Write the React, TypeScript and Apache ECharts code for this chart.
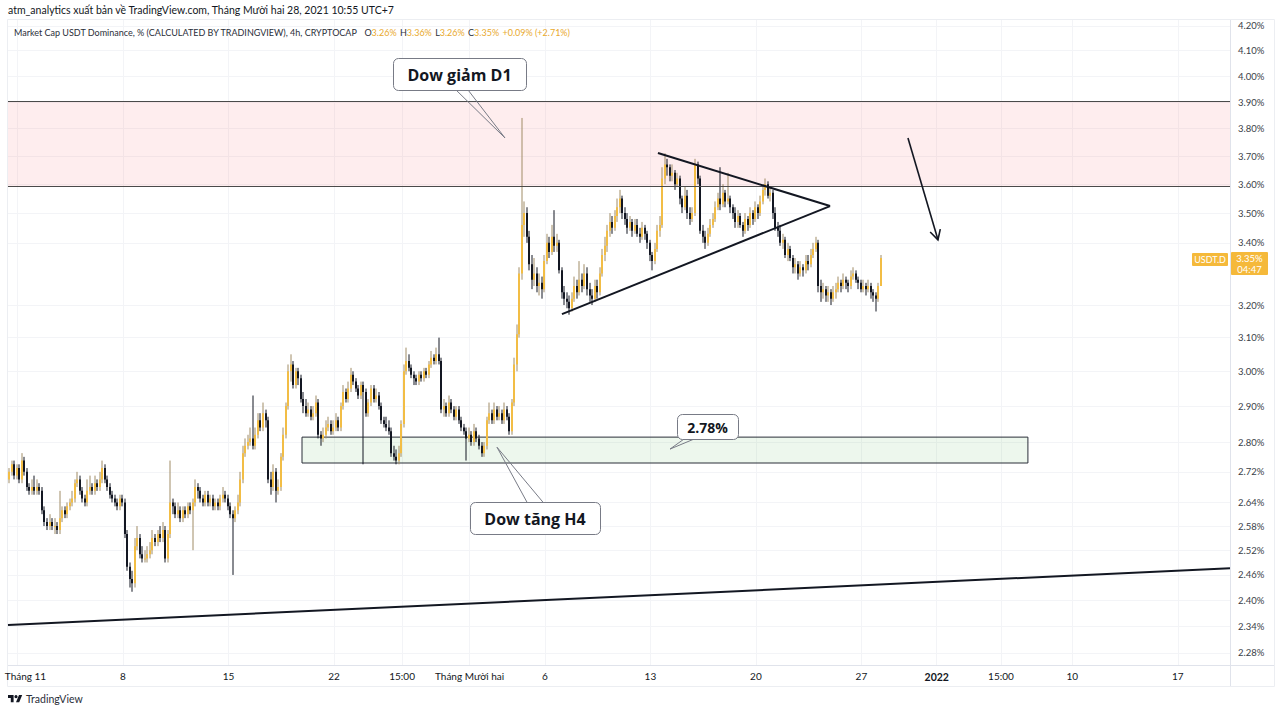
import { useEffect, useRef } from 'react';
import * as echarts from 'echarts';

// ---------- data (4h candles, USDT dominance %) ----------
const firstCandleDay = -13 / 24; // Oct 31 11:00 (days since Nov 1 00:00)
const candleStepDays = 4 / 24;
const firstOpen = 2.7;

const closes = [
  2.72, 2.74, 2.71, 2.73, 2.70, 2.75, 2.72, 2.68, 2.67, 2.68,
  2.67, 2.68, 2.67, 2.62, 2.59, 2.58, 2.59, 2.58, 2.58, 2.57,
  2.60, 2.62, 2.61, 2.63, 2.64, 2.65, 2.69, 2.70, 2.67, 2.65,
  2.64, 2.67, 2.68, 2.67, 2.69, 2.68, 2.70, 2.73, 2.70, 2.68,
  2.66, 2.65, 2.64, 2.63, 2.65, 2.64, 2.56, 2.48, 2.45, 2.44,
  2.53, 2.55, 2.51, 2.50, 2.50, 2.51, 2.52, 2.55, 2.54, 2.56,
  2.55, 2.57, 2.50, 2.56, 2.64, 2.63, 2.61, 2.62, 2.60, 2.62,
  2.61, 2.63, 2.62, 2.64, 2.68, 2.67, 2.65, 2.64, 2.66, 2.64,
  2.65, 2.63, 2.64, 2.63, 2.65, 2.66, 2.65, 2.63, 2.61, 2.60,
  2.62, 2.64, 2.70, 2.77, 2.79, 2.80, 2.81, 2.79, 2.82, 2.86,
  2.84, 2.88, 2.86, 2.70, 2.68, 2.72, 2.67, 2.68, 2.76, 2.82,
  2.90, 3.00, 3.02, 2.96, 3.00, 2.98, 2.92, 2.90, 2.88, 2.89,
  2.87, 2.88, 2.91, 2.82, 2.81, 2.82, 2.84, 2.85, 2.83, 2.84,
  2.86, 2.84, 2.90, 2.94, 2.92, 2.95, 2.99, 2.97, 2.95, 2.93,
  2.96, 2.94, 2.88, 2.91, 2.95, 2.92, 2.93, 2.90, 2.86, 2.85,
  2.84, 2.83, 2.77, 2.76, 2.75, 2.77, 2.85, 3.00, 3.03, 3.01,
  2.99, 2.98, 2.97, 2.99, 2.98, 3.00, 2.99, 3.02, 3.04, 3.03,
  3.05, 3.03, 2.89, 2.90, 2.88, 2.91, 2.89, 2.87, 2.89, 2.86,
  2.84, 2.83, 2.81, 2.82, 2.80, 2.83, 2.81, 2.79, 2.77, 2.79,
  2.86, 2.88, 2.86, 2.89, 2.87, 2.88, 2.86, 2.89, 2.87, 2.83,
  2.91, 3.02, 3.11, 3.30, 3.46, 3.50, 3.42, 3.33, 3.28, 3.30,
  3.26, 3.27, 3.25, 3.34, 3.40, 3.37, 3.42, 3.39, 3.40, 3.31,
  3.24, 3.22, 3.21, 3.19, 3.22, 3.26, 3.24, 3.28, 3.26, 3.30,
  3.25, 3.23, 3.22, 3.26, 3.24, 3.30, 3.36, 3.39, 3.44, 3.47,
  3.45, 3.49, 3.52, 3.55, 3.50, 3.48, 3.45, 3.47, 3.44, 3.46,
  3.43, 3.42, 3.45, 3.43, 3.40, 3.36, 3.34, 3.38, 3.44, 3.46,
  3.62, 3.67, 3.66, 3.63, 3.64, 3.60, 3.62, 3.55, 3.52, 3.56,
  3.50, 3.48, 3.50, 3.67, 3.62, 3.44, 3.42, 3.40, 3.43, 3.46,
  3.48, 3.52, 3.55, 3.53, 3.57, 3.54, 3.55, 3.52, 3.50, 3.47,
  3.49, 3.46, 3.44, 3.48, 3.46, 3.50, 3.48, 3.52, 3.50, 3.54,
  3.58, 3.60, 3.56, 3.57, 3.50, 3.45, 3.44, 3.40, 3.41, 3.36,
  3.38, 3.35, 3.32, 3.33, 3.30, 3.32, 3.31, 3.34, 3.33, 3.36,
  3.38, 3.40, 3.26, 3.24, 3.25, 3.23, 3.24, 3.22, 3.24, 3.25,
  3.27, 3.26, 3.28, 3.27, 3.26, 3.29, 3.30, 3.28, 3.27, 3.25,
  3.26, 3.25, 3.26, 3.24, 3.23, 3.22, 3.26, 3.35,
];

const highs = [
  2.73, 2.75, 2.75, 2.74, 2.74, 2.77, 2.76, 2.73, 2.69, 2.70,
  2.71, 2.70, 2.69, 2.68, 2.63, 2.60, 2.61, 2.60, 2.60, 2.59,
  2.67, 2.63, 2.63, 2.64, 2.65, 2.67, 2.70, 2.72, 2.71, 2.68,
  2.66, 2.70, 2.71, 2.69, 2.71, 2.70, 2.72, 2.75, 2.74, 2.71,
  2.69, 2.67, 2.66, 2.65, 2.66, 2.66, 2.65, 2.57, 2.49, 2.47,
  2.55, 2.58, 2.56, 2.53, 2.52, 2.53, 2.54, 2.57, 2.56, 2.57,
  2.58, 2.59, 2.58, 2.57, 2.75, 2.65, 2.64, 2.64, 2.63, 2.63,
  2.63, 2.64, 2.64, 2.65, 2.70, 2.69, 2.68, 2.66, 2.67, 2.67,
  2.66, 2.66, 2.65, 2.65, 2.66, 2.68, 2.67, 2.66, 2.64, 2.62,
  2.63, 2.66, 2.72, 2.79, 2.81, 2.82, 2.84, 2.93, 2.84, 2.88,
  2.88, 2.91, 2.89, 2.87, 2.72, 2.74, 2.73, 2.70, 2.77, 2.84,
  2.91, 3.02, 3.05, 3.03, 3.01, 3.01, 2.99, 2.94, 2.92, 2.91,
  2.90, 2.90, 2.93, 2.92, 2.83, 2.84, 2.86, 2.87, 2.86, 2.86,
  2.88, 2.87, 2.91, 2.96, 2.95, 2.97, 3.01, 3.00, 2.98, 2.96,
  2.97, 2.97, 2.95, 2.92, 2.96, 2.96, 2.95, 2.94, 2.91, 2.87,
  2.87, 2.86, 2.84, 2.79, 2.78, 2.79, 2.86, 3.02, 3.07, 3.05,
  3.02, 3.00, 2.99, 3.00, 3.00, 3.01, 3.01, 3.03, 3.06, 3.05,
  3.07, 3.10, 3.04, 2.92, 2.91, 2.93, 2.92, 2.90, 2.90, 2.90,
  2.87, 2.85, 2.84, 2.84, 2.83, 2.85, 2.84, 2.82, 2.80, 2.80,
  2.87, 2.91, 2.89, 2.91, 2.90, 2.90, 2.89, 2.91, 2.90, 2.88,
  2.92, 3.04, 3.14, 3.32, 3.84, 3.54, 3.52, 3.44, 3.36, 3.35,
  3.32, 3.30, 3.29, 3.36, 3.43, 3.42, 3.46, 3.51, 3.43, 3.41,
  3.32, 3.26, 3.24, 3.23, 3.24, 3.29, 3.28, 3.34, 3.30, 3.33,
  3.32, 3.27, 3.25, 3.28, 3.28, 3.32, 3.38, 3.42, 3.46, 3.50,
  3.49, 3.51, 3.55, 3.58, 3.56, 3.52, 3.50, 3.49, 3.48, 3.48,
  3.48, 3.45, 3.47, 3.46, 3.44, 3.41, 3.37, 3.40, 3.46, 3.49,
  3.66, 3.71, 3.69, 3.67, 3.67, 3.65, 3.64, 3.63, 3.56, 3.59,
  3.58, 3.52, 3.52, 3.69, 3.68, 3.63, 3.46, 3.44, 3.45, 3.48,
  3.50, 3.54, 3.57, 3.66, 3.60, 3.58, 3.64, 3.56, 3.53, 3.52,
  3.51, 3.50, 3.47, 3.50, 3.49, 3.52, 3.51, 3.54, 3.53, 3.56,
  3.60, 3.62, 3.61, 3.59, 3.58, 3.52, 3.47, 3.46, 3.43, 3.42,
  3.40, 3.39, 3.36, 3.35, 3.34, 3.34, 3.33, 3.36, 3.36, 3.38,
  3.40, 3.42, 3.41, 3.28, 3.27, 3.26, 3.26, 3.25, 3.26, 3.27,
  3.29, 3.28, 3.30, 3.29, 3.28, 3.31, 3.32, 3.31, 3.29, 3.28,
  3.28, 3.27, 3.28, 3.27, 3.25, 3.24, 3.27, 3.36,
];

const lows = [
  2.69, 2.71, 2.70, 2.70, 2.69, 2.69, 2.71, 2.67, 2.66, 2.66,
  2.66, 2.66, 2.66, 2.61, 2.58, 2.57, 2.57, 2.57, 2.56, 2.56,
  2.56, 2.59, 2.60, 2.60, 2.62, 2.63, 2.64, 2.68, 2.66, 2.64,
  2.63, 2.63, 2.66, 2.66, 2.66, 2.67, 2.67, 2.69, 2.69, 2.67,
  2.65, 2.64, 2.63, 2.62, 2.62, 2.63, 2.55, 2.47, 2.43, 2.42,
  2.43, 2.52, 2.50, 2.49, 2.49, 2.49, 2.50, 2.51, 2.53, 2.53,
  2.54, 2.54, 2.49, 2.49, 2.55, 2.61, 2.60, 2.60, 2.59, 2.59,
  2.60, 2.60, 2.61, 2.52, 2.63, 2.65, 2.64, 2.63, 2.63, 2.63,
  2.63, 2.62, 2.62, 2.62, 2.62, 2.64, 2.64, 2.62, 2.60, 2.46,
  2.59, 2.61, 2.63, 2.69, 2.76, 2.78, 2.79, 2.78, 2.78, 2.81,
  2.83, 2.83, 2.84, 2.69, 2.66, 2.67, 2.64, 2.66, 2.67, 2.75,
  2.81, 2.89, 2.97, 2.95, 2.95, 2.96, 2.91, 2.88, 2.87, 2.87,
  2.86, 2.86, 2.87, 2.81, 2.79, 2.80, 2.81, 2.83, 2.82, 2.82,
  2.83, 2.83, 2.83, 2.89, 2.91, 2.91, 2.94, 2.96, 2.94, 2.92,
  2.92, 2.74, 2.87, 2.87, 2.90, 2.91, 2.91, 2.89, 2.85, 2.84,
  2.83, 2.82, 2.76, 2.75, 2.74, 2.74, 2.76, 2.84, 2.99, 3.00,
  2.98, 2.96, 2.96, 2.96, 2.97, 2.97, 2.98, 2.98, 3.01, 3.02,
  3.02, 3.02, 2.88, 2.87, 2.87, 2.87, 2.88, 2.86, 2.86, 2.85,
  2.83, 2.82, 2.75, 2.80, 2.79, 2.79, 2.80, 2.78, 2.76, 2.76,
  2.78, 2.85, 2.85, 2.85, 2.86, 2.86, 2.85, 2.85, 2.86, 2.82,
  2.82, 2.90, 3.00, 3.10, 3.28, 3.42, 3.40, 3.31, 3.25, 3.26,
  3.24, 3.23, 3.22, 3.24, 3.33, 3.35, 3.36, 3.37, 3.37, 3.30,
  3.22, 3.20, 3.19, 3.17, 3.18, 3.21, 3.22, 3.23, 3.24, 3.25,
  3.23, 3.21, 3.20, 3.21, 3.22, 3.23, 3.29, 3.34, 3.37, 3.42,
  3.43, 3.44, 3.47, 3.50, 3.48, 3.46, 3.43, 3.44, 3.42, 3.43,
  3.42, 3.40, 3.41, 3.41, 3.38, 3.34, 3.31, 3.33, 3.37, 3.42,
  3.45, 3.60, 3.63, 3.61, 3.61, 3.58, 3.59, 3.53, 3.50, 3.51,
  3.48, 3.46, 3.47, 3.49, 3.60, 3.43, 3.40, 3.38, 3.39, 3.42,
  3.45, 3.47, 3.51, 3.51, 3.52, 3.52, 3.53, 3.50, 3.48, 3.45,
  3.45, 3.45, 3.42, 3.43, 3.44, 3.45, 3.46, 3.47, 3.48, 3.49,
  3.53, 3.56, 3.55, 3.54, 3.48, 3.44, 3.42, 3.39, 3.38, 3.35,
  3.34, 3.34, 3.30, 3.30, 3.28, 3.29, 3.29, 3.30, 3.31, 3.32,
  3.35, 3.37, 3.24, 3.21, 3.22, 3.21, 3.21, 3.20, 3.21, 3.22,
  3.24, 3.24, 3.25, 3.25, 3.24, 3.25, 3.28, 3.27, 3.25, 3.24,
  3.24, 3.23, 3.24, 3.22, 3.21, 3.18, 3.21, 3.26,
];

// ---------- axes ----------
const priceTicks = [4.2, 4.1, 4.0, 3.9, 3.8, 3.7, 3.6, 3.5, 3.4, 3.2, 3.1, 3.0, 2.9, 2.8, 2.72, 2.64, 2.58, 2.52, 2.46, 2.4, 2.34, 2.28];
const priceRange = [2.2533, 4.2246];
const dayRange = [-0.63, 80.46];
const dayTicks = [0, 7, 14, 21, 25.52, 30, 35, 42, 49, 56, 61, 65.26, 70, 77];
const dayTickLabels = ['Tháng 11', '8', '15', '22', '15:00', 'Tháng Mười hai', '6', '13', '20', '27', '2022', '15:00', '10', '17'];

// ---------- drawings (day, price) ----------
const resistanceZone = [3.5935, 3.904];
const supportZoneDays = [18.88, 67.05];
const supportZonePrices = [2.7435, 2.8136];
const triangleUpper = [[42.5, 3.711], [53.92, 3.524]];
const triangleLower = [[36.13, 3.172], [53.92, 3.524]];
const longTrend = [[-0.63, 2.343], [80.46, 2.476]];
const arrowLine = [[59.09, 3.766], [61.08, 3.41]];
const calloutTexts = ['Dow giảm D1', 'Dow tăng H4', '2.78%'];
const calloutTips = [[32.35, 3.766], [31.82, 2.786], [43.3, 2.781]];

const titleText = 'atm_analytics xuất bản về TradingView.com, Tháng Mười hai 28, 2021 10:55 UTC+7';
const seriesName = 'Market Cap USDT Dominance, % (CALCULATED BY TRADINGVIEW), 4h, CRYPTOCAP';
const legendOHLC = [3.26, 3.36, 3.26, 3.35];
const legendChange = ['+0.09%', '(+2.71%)'];
const symbolTag = 'USDT.D';
const countdown = '04:47';

const FONT = 'Lato, "Open Sans", sans-serif';
const INK = '#131722';
const UP = '#f2bd45';
const UP_WICK = '#a08c66';
const DOWN = '#131722';
const TAG = '#f5b93a';

echarts.graphic.registerShape(
  'tvlogo',
  echarts.graphic.extendPath(
    'M14 22H7V11H0V4h14v18z M28 22h-8l7.5-18h8L28 22z M20 4a4 4 0 1 0 0.01 0z',
    {}
  ) as any
);

export default function App() {
  const ref = useRef<HTMLDivElement>(null);

  useEffect(() => {
    const el = ref.current!;
    const chart = echarts.init(el, null, { renderer: 'svg' });
    const L = Math.log;

    const candles = closes.map((c, i) => {
      const o = i === 0 ? firstOpen : closes[i - 1];
      return [firstCandleDay + i * candleStepDays, L(o), L(c), L(lows[i]), L(highs[i])];
    });

    const dayLabel = (v: number) => {
      const k = dayTicks.findIndex((d) => Math.abs(d - v) < 1e-6);
      const s = k >= 0 ? dayTickLabels[k] : '';
      if (k === 0) return '{first|' + s + '}';
      return s === '2022' ? '{b|2022}' : s;
    };

    const seg = (pts: number[][]) => [
      { coord: [pts[0][0], L(pts[0][1])] },
      { coord: [pts[1][0], L(pts[1][1])] },
    ];

    const renderCandle = (_params: any, api: any) => {
      const x = api.value(0);
      const o = api.value(1);
      const c = api.value(2);
      const pO = api.coord([x, o]);
      const pC = api.coord([x, c]);
      const pL = api.coord([x, api.value(3)]);
      const pH = api.coord([x, api.value(4)]);
      const up = c >= o;
      const bx = Math.round(pO[0]) - 1;
      const top = Math.min(pO[1], pC[1]);
      const h = Math.max(Math.abs(pO[1] - pC[1]), 1);
      return {
        type: 'group',
        children: [
          {
            type: 'line',
            shape: { x1: bx + 1, y1: pH[1], x2: bx + 1, y2: pL[1] },
            style: { stroke: up ? UP_WICK : DOWN, lineWidth: 1 },
          },
          {
            type: 'rect',
            shape: { x: bx, y: top, width: 2, height: h },
            style: { fill: up ? UP : DOWN },
          },
        ],
      };
    };

    chart.setOption({
      animation: false,
      backgroundColor: '#ffffff',
      grid: { left: 8, right: 50, top: 20, bottom: 48, outerBoundsMode: 'none', containLabel: false },
      xAxis: {
        type: 'value',
        min: dayRange[0],
        max: dayRange[1],
        axisLine: { show: false },
        axisTick: { show: false, customValues: dayTicks },
        splitLine: { show: true, lineStyle: { color: '#f3f4f7', width: 1 } },
        axisLabel: {
          customValues: dayTicks,
          formatter: dayLabel,
          color: INK,
          fontSize: 10,
          fontFamily: FONT,
          margin: 6,
          rich: {
            b: { fontWeight: 'bold', fontSize: 10.5, color: INK, fontFamily: FONT },
            first: { fontSize: 10, color: INK, fontFamily: FONT, padding: [0, 0, 0, 16] },
          },
        },
      },
      yAxis: {
        type: 'value',
        position: 'right',
        min: L(priceRange[0]),
        max: L(priceRange[1]),
        axisLine: { show: false },
        axisTick: { show: false, customValues: priceTicks.map(L) },
        splitLine: { show: true, lineStyle: { color: '#f3f4f7', width: 1 } },
        axisLabel: {
          customValues: priceTicks.map(L),
          formatter: (v: number) => Math.exp(v).toFixed(2) + '%',
          color: '#3a3e48',
          fontSize: 9.5,
          fontFamily: FONT,
          margin: 8,
        },
      },
      series: [
        {
          type: 'line',
          data: [],
          z: 1,
          silent: true,
          markArea: {
            silent: true,
            label: { show: false },
            data: [
              [
                {
                  coord: [dayRange[0], L(resistanceZone[0])],
                  itemStyle: { color: 'rgba(242, 54, 69, 0.09)', borderWidth: 0 },
                },
                { coord: [dayRange[1], L(resistanceZone[1])] },
              ],
              [
                {
                  coord: [supportZoneDays[0], L(supportZonePrices[0])],
                  itemStyle: { color: 'rgba(76, 175, 80, 0.1)', borderColor: '#2a2e39', borderWidth: 1 },
                },
                { coord: [supportZoneDays[1], L(supportZonePrices[1])] },
              ],
            ],
          },
          markLine: {
            silent: true,
            symbol: ['none', 'none'],
            label: { show: false },
            lineStyle: { color: '#4a4a4a', width: 1, type: 'solid' },
            data: [
              seg([[dayRange[0], resistanceZone[0]], [dayRange[1], resistanceZone[0]]]),
              seg([[dayRange[0], resistanceZone[1]], [dayRange[1], resistanceZone[1]]]),
            ],
          },
        },
        {
          type: 'custom',
          z: 2,
          silent: true,
          data: candles,
          dimensions: ['t', 'open', 'close', 'lowest', 'highest'],
          encode: { x: 0, y: [1, 2, 3, 4] },
          renderItem: renderCandle,
        },
        {
          type: 'line',
          data: [],
          z: 3,
          silent: true,
          markLine: {
            silent: true,
            symbol: ['none', 'none'],
            label: { show: false },
            lineStyle: { color: INK, width: 2, type: 'solid' },
            data: [seg(triangleUpper), seg(triangleLower), seg(longTrend)],
          },
        },
      ],
    });

    const toPx = (d: number, p: number) =>
      chart.convertToPixel({ gridIndex: 0 } as any, [d, L(p)]) as number[];

    const g: any[] = [];
    // frame and separators
    g.push({ type: 'rect', silent: true, shape: { x: 7.5, y: 19.5, width: 1267, height: 667 }, style: { fill: 'none', stroke: '#eceef2', lineWidth: 1 } });
    g.push({ type: 'line', silent: true, shape: { x1: 1230.5, y1: 20, x2: 1230.5, y2: 686 }, style: { stroke: '#e0e3eb', lineWidth: 1 } });
    g.push({ type: 'line', silent: true, shape: { x1: 8, y1: 665.5, x2: 1274, y2: 665.5 }, style: { stroke: '#e0e3eb', lineWidth: 1 } });

    // title & legend
    g.push({ type: 'text', x: 8, y: 10, style: { text: titleText, fontSize: 10.5, fontFamily: FONT, fill: INK, verticalAlign: 'middle' } });
    g.push({
      type: 'text',
      x: 14,
      y: 32,
      style: {
        text:
          `{n|${seriesName}}  {n|O}{v|${legendOHLC[0].toFixed(2)}%} {n|H}{v|${legendOHLC[1].toFixed(2)}%} ` +
          `{n|L}{v|${legendOHLC[2].toFixed(2)}%} {n|C}{v|${legendOHLC[3].toFixed(2)}%} {v|${legendChange[0]} ${legendChange[1]}}`,
        verticalAlign: 'middle',
        rich: {
          n: { fontSize: 9, fontFamily: FONT, fill: '#2a2e39' },
          v: { fontSize: 9, fontFamily: FONT, fill: '#e9a92e' },
        },
      },
    });

    // callouts: [box dx, dy, w, h], pointer base offsets, font size
    const boxes = [
      { box: [-112, -80, 133, 32], base: [[-49, -48], [-37, -48]], fs: 16 },
      { box: [-27, 55, 130, 32], base: [[30, 55], [46, 55]], fs: 16 },
      { box: [7, -35, 61, 25], base: [[14, -10], [24, -10]], fs: 14 },
    ];
    boxes.forEach((b, k) => {
      const [tx, ty] = toPx(calloutTips[k][0], calloutTips[k][1]);
      const bx = Math.round(tx + b.box[0]);
      const by = Math.round(ty + b.box[1]);
      g.push({
        type: 'polyline',
        z: 100,
        silent: true,
        shape: { points: [[tx + b.base[0][0], ty + b.base[0][1]], [tx, ty], [tx + b.base[1][0], ty + b.base[1][1]]] },
        style: { stroke: '#787b86', lineWidth: 1, fill: 'none' },
      });
      g.push({
        type: 'rect',
        z: 101,
        silent: true,
        shape: { x: bx + 0.5, y: by + 0.5, width: b.box[2], height: b.box[3], r: 5 },
        style: { fill: '#ffffff', stroke: '#787b86', lineWidth: 1 },
      });
      g.push({
        type: 'text',
        z: 102,
        silent: true,
        x: bx + b.box[2] / 2,
        y: by + b.box[3] / 2 + 1,
        style: { text: calloutTexts[k], fontSize: b.fs, fontWeight: 'bold', fontFamily: '"Open Sans", Lato, sans-serif', fill: INK, align: 'center', verticalAlign: 'middle' },
      });
    });

    // arrow
    const a1 = toPx(arrowLine[0][0], arrowLine[0][1]);
    const a2 = toPx(arrowLine[1][0], arrowLine[1][1]);
    const dx = a2[0] - a1[0];
    const dy = a2[1] - a1[1];
    const len = Math.hypot(dx, dy);
    const ux = dx / len;
    const uy = dy / len;
    const head = 11;
    const ang = 0.5;
    const rot = (s: number) => [
      a2[0] - head * (ux * Math.cos(s) - uy * Math.sin(s)),
      a2[1] - head * (ux * Math.sin(s) + uy * Math.cos(s)),
    ];
    g.push({ type: 'line', z: 50, silent: true, shape: { x1: a1[0], y1: a1[1], x2: a2[0], y2: a2[1] }, style: { stroke: INK, lineWidth: 1.6 } });
    g.push({ type: 'polyline', z: 50, silent: true, shape: { points: [rot(ang), a2, rot(-ang)] }, style: { stroke: INK, lineWidth: 1.6, fill: 'none' } });

    // last price tags
    const lastDay = firstCandleDay + (closes.length - 1) * candleStepDays;
    const py = Math.round(toPx(lastDay, closes[closes.length - 1])[1]);
    g.push({ type: 'rect', z: 60, silent: true, shape: { x: 1192, y: py - 5, width: 36, height: 13, r: 1 }, style: { fill: TAG } });
    g.push({ type: 'text', z: 61, silent: true, x: 1210, y: py + 1.5, style: { text: symbolTag, fontSize: 9, fontFamily: FONT, fill: '#ffffff', align: 'center', verticalAlign: 'middle' } });
    g.push({ type: 'rect', z: 60, silent: true, shape: { x: 1231, y: py - 6, width: 37, height: 23, r: 1 }, style: { fill: TAG } });
    g.push({ type: 'text', z: 61, silent: true, x: 1249.5, y: py + 0.5, style: { text: closes[closes.length - 1].toFixed(2) + '%', fontSize: 9.5, fontFamily: FONT, fill: '#ffffff', align: 'center', verticalAlign: 'middle' } });
    g.push({ type: 'text', z: 61, silent: true, x: 1249.5, y: py + 11, style: { text: countdown, fontSize: 9.5, fontFamily: FONT, fill: '#ffffff', align: 'center', verticalAlign: 'middle' } });

    // TradingView watermark
    g.push({ type: 'tvlogo', silent: true, x: 8, y: 693.5, scaleX: 0.4, scaleY: 0.4, style: { fill: INK } });
    g.push({ type: 'text', silent: true, x: 26, y: 699, style: { text: 'TradingView', fontSize: 10.5, fontFamily: FONT, fill: '#2a2e39', verticalAlign: 'middle' } });

    chart.setOption({ graphic: { elements: g } });

    return () => chart.dispose();
  }, []);

  return (
    <div
      ref={ref}
      style={{ position: 'fixed', left: 0, top: 0, width: 1280, height: 713, background: '#ffffff' }}
    />
  );
}
